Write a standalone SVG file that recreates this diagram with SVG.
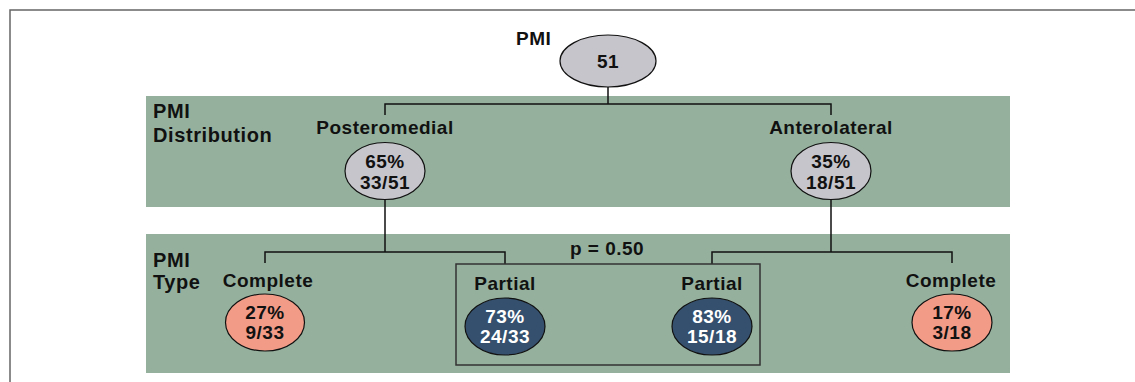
<svg xmlns="http://www.w3.org/2000/svg" width="1135" height="382" viewBox="0 0 1135 382">
  <style>
    .band { fill: #95b19e; }
    .t { font-family: "Liberation Sans", Arial, sans-serif; font-weight: bold; font-size: 19px; fill: #111; letter-spacing: 0.5px; }
    .big { font-size: 20px; letter-spacing: 0.6px; }
    .c { text-anchor: middle; }
    .w { fill: #ffffff; }
    .gray { fill: #c6c5cb; stroke: #111; stroke-width: 1.2; }
    .salmon { fill: #f29b87; stroke: #111; stroke-width: 1.2; }
    .navy { fill: #34506e; stroke: #111; stroke-width: 1.2; }
    .conn { fill: none; stroke: #111; stroke-width: 1.5; }
  </style>
  <rect width="1135" height="382" fill="#ffffff"/>
  <path d="M10,382 V10 H1135" fill="none" stroke="#666" stroke-width="1.5"/>
  <rect class="band" x="146" y="96" width="864" height="111"/>
  <rect class="band" x="146" y="234" width="864" height="139"/>

  <text class="t big" x="153" y="118">PMI</text>
  <text class="t big" x="153" y="142">Distribution</text>
  <text class="t big" x="153" y="267">PMI</text>
  <text class="t big" x="153" y="289">Type</text>

  <g id="connectors">
    <path class="conn" d="M608,87 V104 M385,115 V104 H831 V115"/>
    <path class="conn" d="M385,199 V252 M265,263 V252 H505 V264"/>
    <path class="conn" d="M831,199 V252 M712,264 V252 H952 V263"/>
  </g>

  <g id="pbox">
    <rect x="456" y="264" width="304" height="101" fill="none" stroke="#333" stroke-width="1.5"/>
    <text class="t c" x="607" y="255">p = 0.50</text>
  </g>

  <g id="root">
    <text class="t" x="516" y="45">PMI</text>
    <ellipse class="gray" cx="608" cy="61" rx="48" ry="26"/>
    <text class="t c" x="608" y="68">51</text>
  </g>

  <g id="posteromedial">
    <text class="t c" x="385" y="134">Posteromedial</text>
    <ellipse class="gray" cx="385" cy="171" rx="40" ry="28.5"/>
    <text class="t c" x="385" y="168">65%</text>
    <text class="t c" x="385" y="189">33/51</text>
  </g>

  <g id="anterolateral">
    <text class="t c" x="831" y="134">Anterolateral</text>
    <ellipse class="gray" cx="831" cy="171" rx="40" ry="28.5"/>
    <text class="t c" x="831" y="168">35%</text>
    <text class="t c" x="831" y="189">18/51</text>
  </g>

  <g id="complete-left">
    <text class="t c" x="268" y="287">Complete</text>
    <ellipse class="salmon" cx="265" cy="322.5" rx="39.5" ry="28.5"/>
    <text class="t c" x="265" y="319">27%</text>
    <text class="t c" x="265" y="339">9/33</text>
  </g>

  <g id="partial-left">
    <text class="t c" x="505" y="290">Partial</text>
    <ellipse class="navy" cx="505" cy="326.5" rx="40" ry="28.5"/>
    <text class="t c w" x="505" y="323">73%</text>
    <text class="t c w" x="505" y="343">24/33</text>
  </g>

  <g id="partial-right">
    <text class="t c" x="712" y="290">Partial</text>
    <ellipse class="navy" cx="712" cy="326.5" rx="40" ry="28.5"/>
    <text class="t c w" x="712" y="323">83%</text>
    <text class="t c w" x="712" y="343">15/18</text>
  </g>

  <g id="complete-right">
    <text class="t c" x="951" y="287">Complete</text>
    <ellipse class="salmon" cx="952" cy="322.5" rx="40" ry="28.5"/>
    <text class="t c" x="952" y="319">17%</text>
    <text class="t c" x="952" y="339">3/18</text>
  </g>
</svg>
